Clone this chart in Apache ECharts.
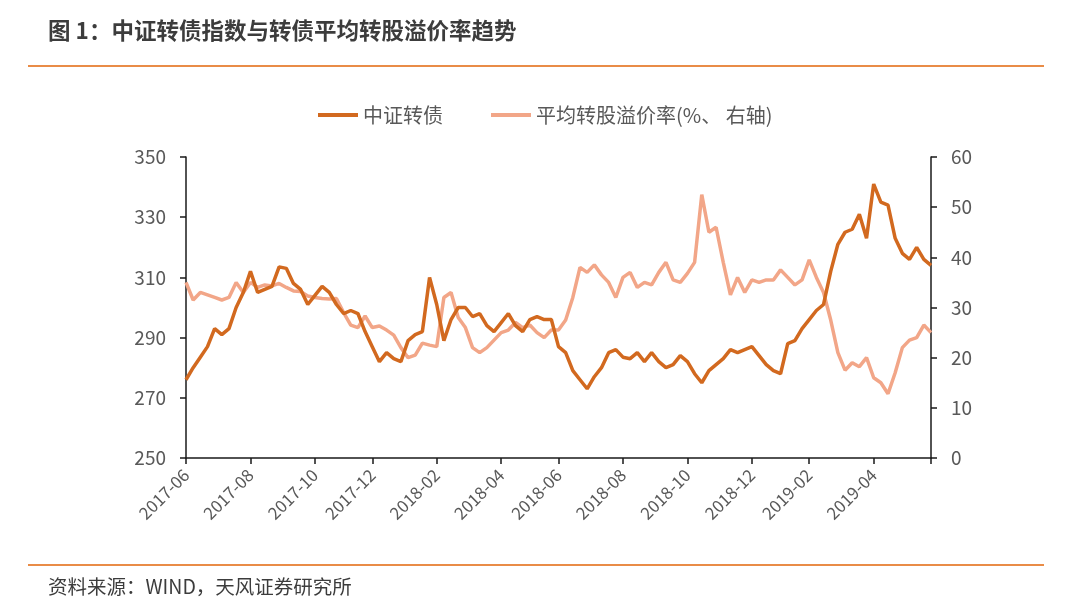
<!DOCTYPE html>
<html>
<head>
<meta charset="utf-8">
<script src="https://cdn.jsdelivr.net/npm/echarts@6/dist/echarts.min.js"></script>
<style>
html,body{margin:0;padding:0;background:#fff;}
#chart{width:1080px;height:609px;}
</style>
</head>
<body>
<div id="chart"></div>
<script>
// Weekly observation dates (Fridays)
const dates = [
'2017-06-02','2017-06-09','2017-06-16','2017-06-23','2017-06-30','2017-07-07','2017-07-14','2017-07-21','2017-07-28',
'2017-08-04','2017-08-11','2017-08-18','2017-08-25','2017-09-01','2017-09-08','2017-09-15','2017-09-22','2017-09-29',
'2017-10-06','2017-10-13','2017-10-20','2017-10-27','2017-11-03','2017-11-10','2017-11-17','2017-11-24',
'2017-12-01','2017-12-08','2017-12-15','2017-12-22','2017-12-29',
'2018-01-05','2018-01-12','2018-01-19','2018-01-26','2018-02-02','2018-02-09','2018-02-16','2018-02-23',
'2018-03-02','2018-03-09','2018-03-16','2018-03-23','2018-03-30','2018-04-06','2018-04-13','2018-04-20','2018-04-27',
'2018-05-04','2018-05-11','2018-05-18','2018-05-25','2018-06-01','2018-06-08','2018-06-15','2018-06-22','2018-06-29',
'2018-07-06','2018-07-13','2018-07-20','2018-07-27','2018-08-03','2018-08-10','2018-08-17','2018-08-24','2018-08-31',
'2018-09-07','2018-09-14','2018-09-21','2018-09-28','2018-10-05','2018-10-12','2018-10-19','2018-10-26',
'2018-11-02','2018-11-09','2018-11-16','2018-11-23','2018-11-30','2018-12-07','2018-12-14','2018-12-21','2018-12-28',
'2019-01-04','2019-01-11','2019-01-18','2019-01-25','2019-02-01','2019-02-08','2019-02-15','2019-02-22',
'2019-03-01','2019-03-08','2019-03-15','2019-03-22','2019-03-29','2019-04-05','2019-04-12','2019-04-19','2019-04-26',
'2019-05-03','2019-05-10','2019-05-17','2019-05-24','2019-05-31'
];

// 中证转债 (left axis)
const cbIndex = [
276,280,283.5,287,293,291,293,300,305,
312,305,306,307,313.5,313,308,306,301,
304,307,305,301,298,299,298,292,
287,282,285,283,282,
289,291,292,310,301,289,296,300,
300,297,298,294,292,295,298,294,292,
296,297,296,296,287,285,279,276,273,
277,280,285,286,283.5,283,285,282,285,
282,280,281,284,282,278,275,279,
281,283,286,285,286,287,284,281,279,
278,288,289,293,296,299,301,312,
321,325,326,331,323,341,335,334,323,
318,316,320,316,314
];

// 平均转股溢价率 (%, right axis)
const premium = [
35,31.5,33,32.5,32,31.5,32,35,33,
35,34,34.5,34.3,34.8,34,33.3,33.2,32.3,
32,31.8,31.7,31.8,29,26.5,26,28.3,
26,26.3,25.5,24.5,22,
20,20.5,22.9,22.5,22.2,32,33,28,
26,22,21,22,23.5,25,25.5,27,26,
26.5,25,24,25.5,25.5,27.5,32,38,37,
38.5,36.5,35,32,36,37,34,35,34.5,
37,39,35.5,35,36.8,39,52.5,45,
46,39,32.5,36,33,35.5,35,35.5,35.5,
37.5,36,34.5,35.5,39.5,36,33,27.5,
21,17.5,19,18.2,20,16,15,12.8,17,
22,23.5,24,26.5,25
];

const seriesNames = ['中证转债', '平均转股溢价率(%、 右轴)'];
const leftTicks = [250, 350, 20];
const rightTicks = [0, 60, 10];

const labelIdx = new Set();
(function(){
  let prev = '';
  dates.forEach((d, i) => {
    const ym = d.slice(0, 7);
    const m = parseInt(d.slice(5, 7), 10);
    if (ym !== prev && m % 2 === 0) labelIdx.add(i);
    prev = ym;
  });
})();

const chart = echarts.init(document.getElementById('chart'), null, {renderer: 'canvas'});
const axisColor = '#1a1a1a';
const textColor = '#595959';
const fontFam = '"Noto Sans CJK SC", "Noto Sans", sans-serif';

chart.setOption({
  animation: false,
  backgroundColor: '#ffffff',
  textStyle: {fontFamily: fontFam},
  grid: {left: 186, right: 149, top: 157, bottom: 151, containLabel: false},
  legend: {
    top: 100, left: 313,
    itemWidth: 40, itemHeight: 4, itemGap: 48,
    icon: 'rect',
    textStyle: {color: textColor, fontSize: 20, fontFamily: fontFam},
    data: seriesNames
  },
  graphic: [
    {type: 'text', left: 48, top: 19, style: {text: '图 1：中证转债指数与转债平均转股溢价率趋势', fill: '#3c3c3c', font: 'bold 22.5px "Noto Sans CJK SC", sans-serif'}},
    {type: 'rect', left: 28, top: 65, shape: {width: 1016, height: 2}, style: {fill: '#E98C47'}},
    {type: 'rect', left: 28, top: 564, shape: {width: 1016, height: 2}, style: {fill: '#E98C47'}},
    {type: 'text', left: 48, top: 577, style: {text: '资料来源：WIND，天风证券研究所', fill: '#3c3c3c', font: '19.5px "Noto Sans CJK SC", sans-serif'}}
  ],
  xAxis: {
    type: 'category',
    data: dates,
    boundaryGap: false,
    axisLine: {lineStyle: {color: axisColor, width: 1.5}},
    axisTick: {
      show: true, length: 6, lineStyle: {color: axisColor, width: 1.5},
      interval: (i) => labelIdx.has(i) || i === dates.length - 1
    },
    axisLabel: {
      interval: (i) => labelIdx.has(i),
      rotate: 45, color: textColor, fontSize: 17, margin: 14,
      formatter: (v) => v.slice(0, 7)
    },
    splitLine: {show: false}
  },
  yAxis: [
    {
      type: 'value', min: leftTicks[0], max: leftTicks[1], interval: leftTicks[2],
      position: 'left',
      axisLine: {show: true, lineStyle: {color: axisColor, width: 1.5}},
      axisTick: {show: true, length: 6, lineStyle: {color: axisColor, width: 1.5}},
      axisLabel: {color: textColor, fontSize: 19, margin: 20},
      splitLine: {show: false}
    },
    {
      type: 'value', min: rightTicks[0], max: rightTicks[1], interval: rightTicks[2],
      position: 'right',
      axisLine: {show: true, lineStyle: {color: axisColor, width: 1.5}},
      axisTick: {show: true, length: 6, lineStyle: {color: axisColor, width: 1.5}},
      axisLabel: {color: textColor, fontSize: 19, margin: 20},
      splitLine: {show: false}
    }
  ],
  series: [
    {
      name: seriesNames[1], type: 'line', yAxisIndex: 1, data: premium,
      showSymbol: false, symbol: 'none',
      lineStyle: {color: '#F2A688', width: 3.5},
      itemStyle: {color: '#F2A688'}, z: 2
    },
    {
      name: seriesNames[0], type: 'line', yAxisIndex: 0, data: cbIndex,
      showSymbol: false, symbol: 'none',
      lineStyle: {color: '#D2691F', width: 3.5},
      itemStyle: {color: '#D2691F'}, z: 3
    }
  ]
});
</script>
</body>
</html>
